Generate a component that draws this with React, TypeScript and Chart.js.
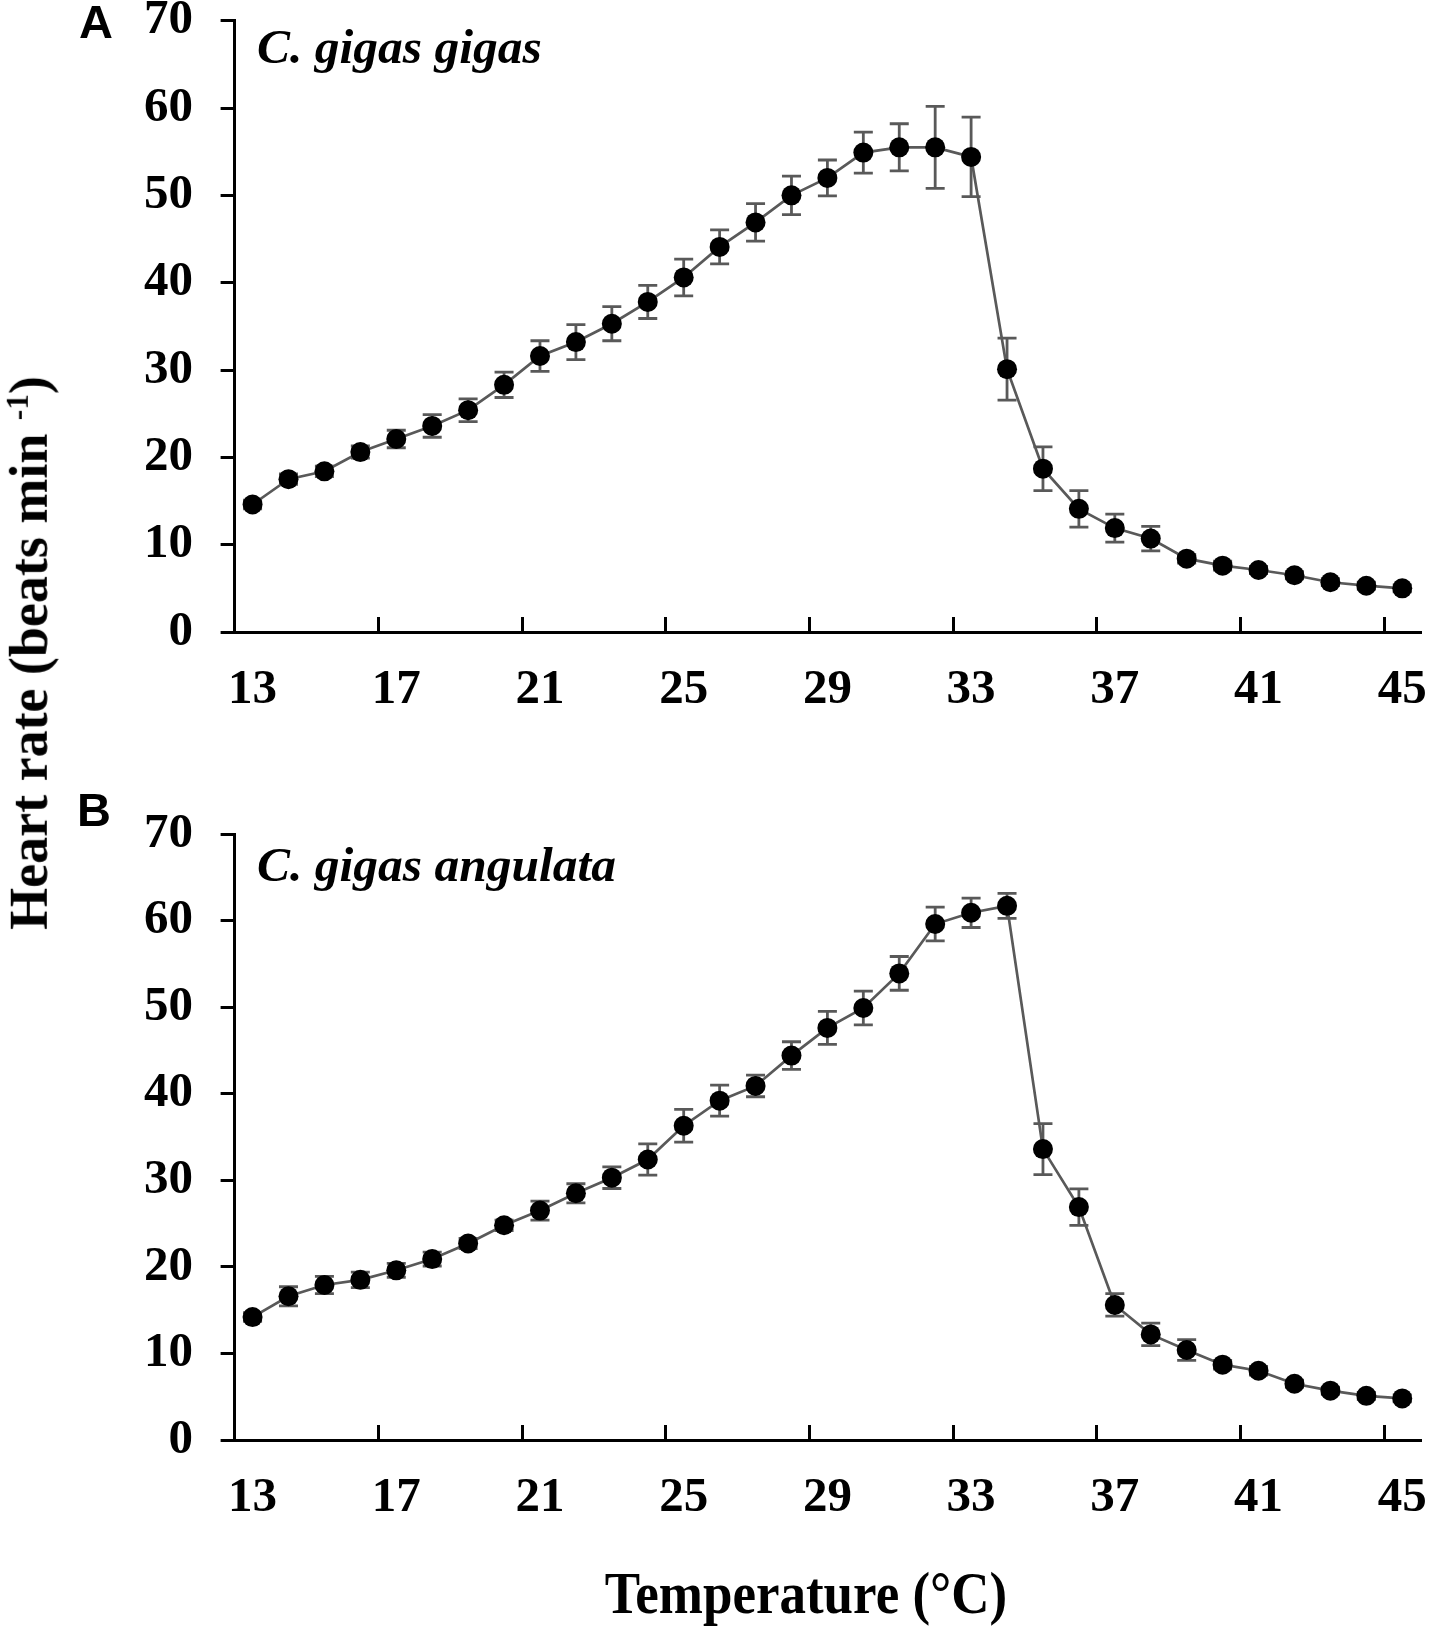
import { useEffect, useRef } from "react";
import { Chart, registerables } from "chart.js";

Chart.register(...registerables);

const temps = [
  "13", "14", "15", "16", "17", "18", "19", "20", "21", "22", "23",
  "24", "25", "26", "27", "28", "29", "30", "31", "32", "33", "34",
  "35", "36", "37", "38", "39", "40", "41", "42", "43", "44", "45",
];
const xTickLabels = ["13", "17", "21", "25", "29", "33", "37", "41", "45"];

// C. gigas gigas
const gigasMean = [
  14.6, 17.5, 18.4, 20.6, 22.1, 23.6, 25.4, 28.3, 31.6, 33.2, 35.3,
  37.8, 40.6, 44.1, 46.9, 50.0, 52.0, 54.9, 55.5, 55.5, 54.4, 30.1,
  18.7, 14.1, 11.9, 10.7, 8.4, 7.6, 7.1, 6.5, 5.7, 5.3, 5.0,
];
const gigasErr = [
  0.5, 0.6, 0.6, 0.7, 1.0, 1.3, 1.3, 1.45, 1.75, 2.0, 1.95,
  1.9, 2.1, 1.95, 2.15, 2.2, 2.05, 2.35, 2.7, 4.7, 4.55, 3.55,
  2.5, 2.1, 1.6, 1.4, 0.5, 0.5, 0.4, 0.4, 0.4, 0.4, 0.4,
];

// C. gigas angulata
const angulataMean = [
  14.2, 16.6, 17.9, 18.5, 19.6, 20.9, 22.7, 24.8, 26.5, 28.5, 30.3,
  32.4, 36.3, 39.2, 40.9, 44.4, 47.6, 49.9, 53.9, 59.6, 60.9, 61.7,
  33.6, 26.9, 15.6, 12.2, 10.4, 8.7, 8.0, 6.5, 5.7, 5.1, 4.8,
];
const angulataErr = [
  0.5, 1.1, 1.0, 0.9, 0.8, 0.8, 0.6, 0.6, 1.1, 1.1, 1.25,
  1.8, 1.9, 1.8, 1.25, 1.6, 1.9, 1.95, 1.95, 1.95, 1.7, 1.45,
  2.95, 2.1, 1.3, 1.3, 1.2, 0.5, 0.5, 0.4, 0.4, 0.4, 0.4,
];

const yMin = 0;
const yMax = 70;
const yStep = 10;

const SERIF = '"Liberation Serif", "Times New Roman", serif';
const SANS = '"Liberation Sans", Arial, sans-serif';
const GREY = "#595959";

function errorBars(errs: number[]) {
  return {
    id: "errorBars",
    beforeDatasetsDraw(chart: any) {
      const { ctx } = chart;
      const y = chart.scales.y;
      const values = chart.data.datasets[0].data as number[];
      const meta = chart.getDatasetMeta(0);
      ctx.save();
      ctx.strokeStyle = GREY;
      ctx.lineWidth = 2.8;
      meta.data.forEach((pt: any, i: number) => {
        const top = y.getPixelForValue(values[i] + errs[i]);
        const bot = y.getPixelForValue(values[i] - errs[i]);
        ctx.beginPath();
        ctx.moveTo(pt.x, top);
        ctx.lineTo(pt.x, bot);
        ctx.moveTo(pt.x - 9.5, top);
        ctx.lineTo(pt.x + 9.5, top);
        ctx.moveTo(pt.x - 9.5, bot);
        ctx.lineTo(pt.x + 9.5, bot);
        ctx.stroke();
      });
      ctx.restore();
    },
  };
}

function makeChart(
  canvas: HTMLCanvasElement,
  values: number[],
  errs: number[],
  top: number,
  xHeight: number
) {
  const font = { family: SERIF, size: 49, weight: "bold" as const };
  return new Chart(canvas, {
    type: "line",
    data: {
      labels: temps,
      datasets: [
        {
          data: values,
          borderColor: GREY,
          borderWidth: 2.7,
          tension: 0,
          pointRadius: 10,
          pointBackgroundColor: "#000",
          pointBorderColor: "#000",
          pointBorderWidth: 0,
        },
      ],
    },
    options: {
      animation: false,
      responsive: true,
      maintainAspectRatio: false,
      layout: { padding: { left: 0, top, right: 10.8, bottom: 0 } },
      plugins: {
        legend: { display: false },
        tooltip: { enabled: false },
        title: { display: false },
      },
      scales: {
        x: {
          type: "category",
          offset: true,
          grid: {
            offset: true,
            drawOnChartArea: false,
            drawTicks: true,
            tickLength: -15,
            lineWidth: 3,
            color: (ctx: any) =>
              xTickLabels.includes(temps[ctx.index]) ? "#000" : "rgba(0,0,0,0)",
          },
          border: { display: true, color: "#000", width: 3 },
          ticks: {
            autoSkip: false,
            maxRotation: 0,
            minRotation: 0,
            padding: 44,
            color: "#000",
            font,
            callback: (_v: any, i: number) =>
              xTickLabels.includes(temps[i]) ? temps[i] : "",
          },
          afterFit: (s: any) => {
            s.height = xHeight;
            s.paddingLeft = 0;
            s.paddingRight = 0;
          },
        },
        y: {
          min: yMin,
          max: yMax,
          grid: {
            drawOnChartArea: false,
            drawTicks: true,
            tickLength: 14,
            lineWidth: 3,
            color: "#000",
          },
          border: { display: true, color: "#000", width: 3 },
          ticks: { stepSize: yStep, padding: 27.6, color: "#000", font },
          afterFit: (s: any) => {
            s.width = 234.6;
            s.paddingTop = 0;
            s.paddingBottom = 0;
          },
        },
      },
    },
    plugins: [errorBars(errs)],
  });
}

const abs = (o: any) => ({ position: "absolute" as const, ...o });

export default function App() {
  const refA = useRef<HTMLCanvasElement | null>(null);
  const refB = useRef<HTMLCanvasElement | null>(null);

  useEffect(() => {
    if (!refA.current || !refB.current) return;
    const a = makeChart(refA.current, gigasMean, gigasErr, 20.7, 128);
    const b = makeChart(refB.current, angulataMean, angulataErr, 74, 120);
    return () => {
      a.destroy();
      b.destroy();
    };
  }, []);

  const letter = { fontFamily: SANS, fontWeight: "bold", fontSize: 47, lineHeight: "47px", color: "#000" };
  const species = {
    fontFamily: SERIF,
    fontWeight: "bold",
    fontStyle: "italic",
    fontSize: 49.5,
    lineHeight: "49.5px",
    color: "#000",
    whiteSpace: "nowrap" as const,
  };
  const axisTitle = {
    fontFamily: SERIF,
    fontWeight: "bold",
    fontSize: 54,
    lineHeight: "54px",
    color: "#000",
    whiteSpace: "nowrap" as const,
  };

  return (
    <div style={abs({ left: 0, top: 0, width: 1431, height: 1631, background: "#fff", overflow: "hidden" })}>
      <div style={abs({ left: 0, top: 0, width: 1431, height: 760 })}>
        <canvas ref={refA} />
      </div>
      <div style={abs({ left: 0, top: 760, width: 1431, height: 800 })}>
        <canvas ref={refB} />
      </div>
      <div style={abs({ left: 79, top: -2, ...letter })}>A</div>
      <div style={abs({ left: 77, top: 786, ...letter })}>B</div>
      <div style={abs({ left: 257, top: 21.5, ...species })}>C. gigas gigas</div>
      <div style={abs({ left: 257, top: 839.5, ...species })}>C. gigas angulata</div>
      <div
        style={abs({
          left: 806,
          top: 1568,
          transformOrigin: "0 45.2px",
          transform: "translateX(-50%) scaleY(1.12)",
          fontFamily: SERIF,
          fontWeight: "bold",
          fontSize: 53,
          lineHeight: "54px",
          color: "#000",
          whiteSpace: "nowrap",
        })}
      >
        Temperature (°C)
      </div>
      <div
        style={abs({
          left: 0,
          top: 0,
          transformOrigin: "0 0",
          transform: "translate(47px, 653px) rotate(-90deg) translate(-50%, -45.2px)",
          ...axisTitle,
        })}
      >
        Heart rate (beats min{" "}
        <span style={{ fontSize: 31, lineHeight: 0, verticalAlign: 19 }}>-1</span>)
      </div>
    </div>
  );
}
